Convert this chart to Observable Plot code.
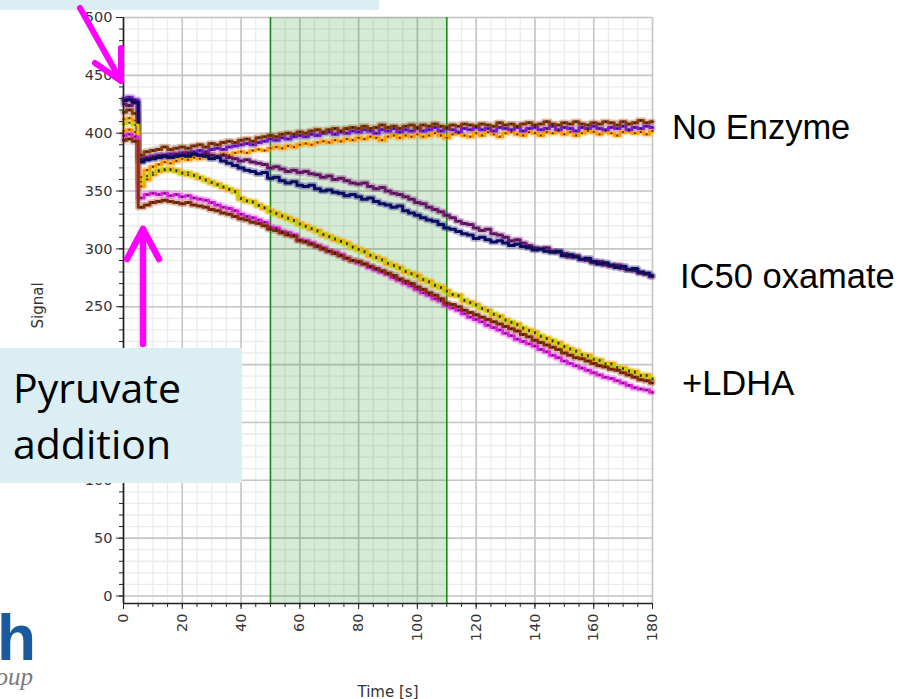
<!DOCTYPE html>
<html>
<head>
<meta charset="utf-8">
<script src="https://cdn.jsdelivr.net/npm/d3@7"></script>
<script src="https://cdn.jsdelivr.net/npm/@observablehq/plot@0.6"></script>
<style>
  html, body { margin: 0; padding: 0; background: #fff; overflow: hidden; }
  #wrap { position: relative; width: 900px; height: 699px; }
  #wrap > svg { position: absolute; left: 0; top: 0; }
  #overlay { pointer-events: none; }
</style>
</head>
<body>
<div id="wrap"></div>
<script>
// ---- Data (time in s, sampled every 2 s) ----
const time = d3.range(0, 181, 2);

const neBrown = [
  418, 420, 417, 381, 384, 385, 386, 388, 386, 387,
  388, 387, 389, 390, 388, 391, 390, 392, 393, 392,
  394, 395, 393, 396, 397, 398, 397, 399, 400, 399,
  401, 400, 402, 403, 401, 403, 404, 402, 404, 405,
  404, 406, 404, 405, 407, 405, 406, 404, 406, 407,
  405, 407, 406, 408, 406, 405, 407, 406, 408, 407,
  406, 408, 407, 406, 409, 407, 408, 406, 408, 409,
  407, 408, 410, 408, 407, 409, 408, 410, 408, 407,
  409, 408, 410, 409, 407, 410, 408, 409, 411, 409,
  410];
const nePurple = [
  430, 431, 429, 378, 379, 380, 381, 380, 382, 381,
  383, 382, 384, 385, 384, 386, 387, 386, 388, 389,
  390, 391, 390, 392, 393, 395, 394, 396, 395, 397,
  398, 397, 399, 398, 400, 401, 399, 401, 400, 402,
  401, 403, 402, 400, 403, 402, 404, 401, 403, 402,
  404, 402, 403, 405, 402, 404, 403, 401, 404, 403,
  405, 403, 404, 402, 405, 404, 403, 405, 402, 404,
  405, 403, 404, 406, 403, 405, 404, 402, 405, 404,
  406, 404, 403, 405, 404, 406, 403, 405, 404, 406,
  405];
const neOrange = [
  412, 413, 411, 362, 368, 371, 373, 375, 374, 376,
  378, 377, 379, 378, 380, 381, 380, 382, 381, 383,
  384, 383, 385, 386, 385, 387, 388, 387, 389, 388,
  390, 391, 390, 392, 393, 392, 394, 393, 395, 394,
  396, 395, 397, 396, 394, 397, 398, 396, 398, 397,
  399, 397, 398, 400, 398, 396, 399, 400, 398, 397,
  400, 398, 401, 399, 397, 400, 401, 399, 398, 401,
  400, 398, 401, 400, 402, 399, 401, 398, 400, 402,
  401, 399, 402, 400, 398, 401, 402, 400, 401, 399,
  402];
const icPlum = [
  425, 424, 426, 377, 378, 379, 380, 381, 380, 382,
  381, 383, 382, 381, 382, 381, 380, 381, 379, 378,
  376, 377, 375, 374, 373, 370, 371, 369, 367, 368,
  366, 367, 365, 364, 362, 363, 360, 361, 359, 357,
  356, 357, 354, 352, 353, 350, 348, 347, 345, 343,
  340, 339, 336, 334, 332, 329, 327, 324, 322, 321,
  318, 316, 317, 313, 312, 310, 307, 308, 305, 303,
  301, 300, 301, 298, 297, 296, 293, 294, 291, 290,
  288, 289, 286, 285, 286, 283, 282, 281, 279, 278,
  276];
const icNavy = [
  428, 429, 427, 375, 377, 378, 379, 380, 379, 380,
  381, 380, 382, 381, 380, 378, 379, 376, 374, 372,
  370, 368, 367, 365, 366, 361, 362, 359, 357, 358,
  355, 354, 355, 352, 350, 351, 349, 348, 346, 347,
  345, 343, 344, 341, 339, 338, 336, 337, 333, 331,
  329, 327, 325, 324, 321, 318, 317, 315, 313, 312,
  309, 310, 308, 306, 307, 305, 303, 304, 302, 301,
  299, 300, 298, 297, 298, 294, 295, 293, 291, 292,
  289, 287, 288, 286, 284, 285, 282, 283, 280, 279,
  277];
const ldYellow = [
  408, 409, 407, 358, 363, 366, 368, 369, 368, 367,
  365, 366, 363, 362, 359, 358, 355, 354, 352, 349,
  343, 342, 340, 337, 336, 332, 330, 329, 326, 324,
  321, 319, 318, 315, 313, 310, 309, 306, 304, 301,
  299, 297, 295, 292, 290, 288, 285, 283, 281, 278,
  276, 274, 271, 269, 266, 263, 261, 259, 256, 253,
  251, 248, 246, 244, 241, 238, 237, 234, 232, 229,
  227, 225, 222, 221, 218, 215, 214, 211, 209, 207,
  205, 203, 201, 200, 198, 196, 195, 193, 191, 190,
  188];
const ldOrange = [
  402, 403, 401, 354, 360, 364, 367, 368, 369, 368,
  366, 364, 364, 361, 360, 357, 356, 353, 351, 350,
  344, 341, 341, 338, 335, 333, 331, 328, 327, 325,
  322, 320, 317, 316, 312, 311, 308, 307, 305, 302,
  300, 298, 294, 293, 291, 287, 286, 284, 280, 279,
  277, 273, 272, 268, 267, 264, 260, 260, 255, 254,
  252, 249, 247, 243, 242, 239, 236, 235, 231, 230,
  228, 224, 223, 220, 219, 216, 213, 212, 208, 208,
  204, 204, 200, 201, 197, 197, 194, 194, 190, 191,
  187];
const ldMagenta = [
  398, 399, 397, 344, 347, 348, 347, 348, 346, 347,
  345, 346, 344, 343, 342, 340, 338, 336, 335, 333,
  330, 328, 327, 325, 323, 319, 318, 315, 314, 312,
  308, 307, 305, 303, 301, 298, 297, 295, 292, 290,
  288, 287, 284, 282, 280, 278, 275, 273, 270, 268,
  265, 262, 260, 257, 255, 251, 249, 247, 244, 241,
  239, 237, 234, 232, 230, 227, 225, 222, 220, 218,
  216, 213, 211, 208, 206, 203, 201, 199, 197, 195,
  193, 191, 189, 188, 186, 184, 182, 180, 179, 178,
  176];
const ldBrown = [
  394, 395, 393, 336, 338, 340, 341, 342, 341, 340,
  339, 340, 338, 337, 336, 334, 333, 331, 330, 328,
  326, 325, 323, 322, 320, 317, 316, 314, 312, 311,
  307, 306, 304, 302, 300, 298, 296, 294, 292, 290,
  289, 287, 285, 283, 281, 279, 277, 274, 272, 270,
  267, 265, 262, 260, 257, 253, 252, 250, 247, 245,
  243, 241, 239, 237, 235, 233, 231, 229, 226, 224,
  221, 219, 217, 215, 213, 210, 208, 206, 205, 203,
  201, 199, 198, 196, 195, 193, 191, 189, 187, 186,
  184];

const seriesNames = ["neOrange", "nePurple", "neBrown", "icPlum", "icNavy", "ldOrange", "ldYellow", "ldMagenta", "ldBrown"];
const seriesValues = [neOrange, nePurple, neBrown, icPlum, icNavy, ldOrange, ldYellow, ldMagenta, ldBrown];
const seriesColors = ["#ff9a00", "#7a1fd0", "#8b3a0a", "#6e1a70", "#0a0a6e", "#ff9900", "#cccc00", "#e020e0", "#8b2e0a"];

const groupLabels = ["No Enzyme", "IC50 oxamate", "+LDHA"];

const xMajor = d3.range(0, 181, 20);
const xMinor = d3.range(0, 181, 5);
const yMajor = d3.range(0, 501, 50);
const yMinor = d3.range(0, 501, 10);
const band = [{start: 50, end: 110}];
const yDomain = [-6.5, 500];

// long table for the library
const rows = seriesNames.flatMap((s, k) => seriesValues[k].map((v, i) => ({s, t: time[i], v})));

const chart = Plot.plot({
  width: 900,
  height: 699,
  marginLeft: 123,
  marginRight: 248,
  marginTop: 17,
  marginBottom: 96,
  style: {fontFamily: "DejaVu Sans, sans-serif", color: "#333", background: "transparent"},
  x: {domain: [0, 180]},
  y: {domain: yDomain},
  color: {domain: seriesNames, range: seriesColors},
  marks: [
    Plot.ruleX(xMinor, {stroke: "#ebebeb", strokeWidth: 1.3}),
    Plot.ruleY(yMinor, {stroke: "#ebebeb", strokeWidth: 1.3}),
    Plot.ruleX(xMajor, {stroke: "#c6c6c6", strokeWidth: 1.6}),
    Plot.ruleY(yMajor, {stroke: "#c6c6c6", strokeWidth: 1.6}),
    Plot.rect(band, {x1: "start", x2: "end", y1: yDomain[0], y2: yDomain[1], fill: "#008000", fillOpacity: 0.16}),
    Plot.ruleX(band.flatMap(d => [d.start, d.end]), {stroke: "#1a8a1a", strokeWidth: 1.6}),
    // glow under the traces
    Plot.line(rows, {x: "t", y: "v", z: "s", stroke: "s", strokeWidth: 6.5, strokeOpacity: 0.3, curve: "step"}),
    Plot.line(rows, {x: "t", y: "v", z: "s", stroke: "s", strokeWidth: 3, curve: "step"}),
    Plot.dot(rows, {x: "t", y: "v", symbol: "square", r: 1, fill: "#1a1a1a", fillOpacity: 0.85}),
    Plot.ruleX([0], {stroke: "#222", strokeWidth: 1.6}),
    Plot.ruleY([yDomain[0]], {stroke: "#222", strokeWidth: 1.6}),
    Plot.axisY(yMinor, {tickSize: 4, tickFormat: () => "", label: null, stroke: "#222"}),
    Plot.axisY(yMajor, {tickSize: 7, tickPadding: 4, fontSize: "14.5px", label: null, stroke: "#222", fill: "#333"}),
    Plot.axisX(xMinor, {tickSize: 4, tickFormat: () => "", label: null, stroke: "#222"}),
    Plot.axisX(xMajor, {tickSize: 6, tickPadding: 4, tickRotate: -90, textAnchor: "end", lineAnchor: "middle", fontSize: "14.5px", label: null, stroke: "#222", fill: "#333"}),
    Plot.text(["Time [s]"], {frameAnchor: "bottom", dy: 93, lineAnchor: "bottom", fontSize: "15px", fill: "#333"}),
    Plot.text(["Signal"], {frameAnchor: "left", dx: -85, dy: 18, rotate: -90, fontSize: "15px", fill: "#333"})
  ]
});

const wrap = document.getElementById("wrap");
wrap.appendChild(chart);

// ---- Annotation overlay ----
const ns = "http://www.w3.org/2000/svg";
const ov = d3.select(wrap).append("svg")
  .attr("id", "overlay")
  .attr("width", 900).attr("height", 699)
  .attr("xmlns", ns);

const boxFill = "#daeef3";
ov.append("rect").attr("x", 0).attr("y", 0).attr("width", 379).attr("height", 10).attr("fill", boxFill);
ov.append("rect").attr("x", 0).attr("y", 348).attr("width", 242).attr("height", 135).attr("fill", boxFill);
const pyr = ov.append("text").attr("font-family", "Open Sans, Noto Sans, sans-serif").attr("font-size", 41).attr("fill", "#000");
pyr.append("tspan").attr("x", 13).attr("y", 403).text("Pyruvate");
pyr.append("tspan").attr("x", 13).attr("y", 459).text("addition");

const mag = "#ff00ff";
const arrows = ov.append("g").attr("stroke", mag).attr("stroke-linecap", "round").attr("fill", "none");
arrows.append("path").attr("stroke-width", 6).attr("d", "M80,8 L121,81 M121,81 L121,48 M121,81 L95,63");
arrows.append("path").attr("stroke-width", 6.5).attr("d", "M143,344 L143,229 M143,229 L127,259 M143,229 L159,259");

const labFont = "Liberation Sans, Arial, sans-serif";
const labPos = [[672, 139], [680, 288], [682, 395]];
groupLabels.forEach((g, i) => {
  ov.append("text").attr("x", labPos[i][0]).attr("y", labPos[i][1])
    .attr("font-family", labFont).attr("font-size", 34.5).attr("fill", "#000").text(g);
});

// partial logo at bottom left
ov.append("text").attr("x", 36).attr("y", 660).attr("text-anchor", "end")
  .attr("font-family", "Liberation Sans, Arial, sans-serif").attr("font-weight", "bold")
  .attr("font-size", 64).attr("fill", "#1a5a9e").text("h");
ov.append("text").attr("x", 33).attr("y", 685).attr("text-anchor", "end")
  .attr("font-family", "Liberation Serif, serif").attr("font-style", "italic")
  .attr("font-size", 25).attr("fill", "#7a7a7a").text("oup");
</script>
</body>
</html>
